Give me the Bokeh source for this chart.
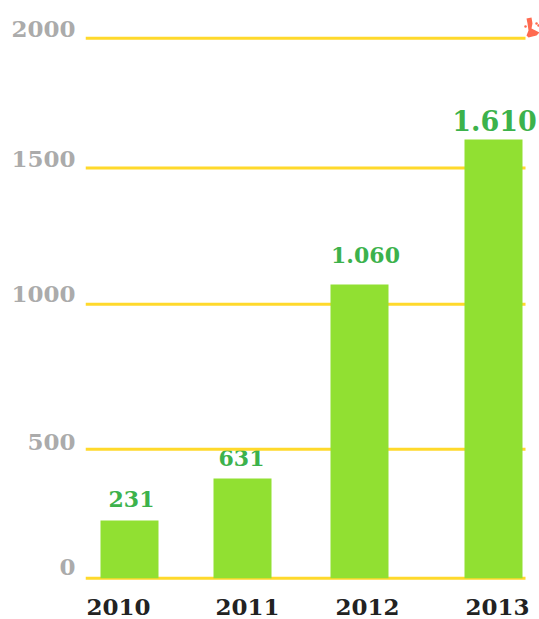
from bokeh.plotting import figure
from bokeh.embed import file_html
from bokeh.resources import INLINE
from bokeh.models import Range1d, FixedTicker, ColumnDataSource
from bokeh.core.properties import value

years = ["2010", "2011", "2012", "2013"]
bar_heights = [214, 369, 1088, 1625]
value_labels = ["231", "631", "1.060", "1.610"]
grid_levels = [0, 478, 1015, 1519, 2000]
y_tick_labels = ["0", "500", "1000", "1500", "2000"]

# layout of this hand-drawn infographic
UNITS_PER_PX = 2000 / 540
FRAME_L, FRAME_R, FRAME_T, FRAME_B, ZERO = 85, 539, 4, 590, 577.7
def y_at(px):
    return (ZERO - px) * UNITS_PER_PX

bar_x = [129, 242, 359, 493]
bar_w = 58
year_x = [118, 247, 367, 497]
label_x = [131, 241, 365, 494]
label_y = [498, 457, 254, 120]
label_size = ["22px", "22px", "22px", "27px"]
y_label_px = [566, 441, 293, 158, 28]

FONT = "DejaVu Serif"
p = figure(width=539, height=619, output_backend="svg", toolbar_location=None,
           x_range=Range1d(FRAME_L, FRAME_R),
           y_range=Range1d(y_at(FRAME_B), y_at(FRAME_T)),
           min_border_left=FRAME_L, min_border_right=0,
           min_border_top=FRAME_T, min_border_bottom=619 - FRAME_B,
           outline_line_color=None, background_fill_color="white",
           border_fill_color="white")
p.grid.visible = False

p.yaxis.ticker = FixedTicker(ticks=[y_at(v) for v in y_label_px])
p.yaxis.major_label_overrides = {y_at(v): t for v, t in zip(y_label_px, y_tick_labels)}
p.yaxis.axis_line_color = None
p.yaxis.major_tick_line_color = None
p.yaxis.minor_tick_line_color = None
p.yaxis.major_tick_out = 0
p.yaxis.major_label_standoff = 10
p.yaxis.major_label_text_font = FONT
p.yaxis.major_label_text_font_style = "bold"
p.yaxis.major_label_text_font_size = "23px"
p.yaxis.major_label_text_color = "#ababab"

p.xaxis.ticker = FixedTicker(ticks=year_x)
p.xaxis.major_label_overrides = dict(zip(year_x, years))
p.xaxis.axis_line_color = None
p.xaxis.major_tick_line_color = None
p.xaxis.minor_tick_line_color = None
p.xaxis.major_tick_out = 0
p.xaxis.major_label_standoff = 8
p.xaxis.major_label_text_font = FONT
p.xaxis.major_label_text_font_style = "bold"
p.xaxis.major_label_text_font_size = "23px"
p.xaxis.major_label_text_color = "#222222"

src = ColumnDataSource(dict(x=label_x, y=[y_at(v) for v in label_y],
                            t=value_labels, s=label_size))
p.text(x="x", y="y", text="t", source=src, text_font=value(FONT),
       text_font_style="bold", text_font_size="s", text_color="#3CB24C",
       text_align="center", text_baseline="middle")

grid_x0 = [85] * len(grid_levels)
grid_x1 = [525] * len(grid_levels)
p.segment(grid_x0, grid_levels, grid_x1, grid_levels, line_color="#FFD92B", line_width=3)

p.vbar(x=bar_x, top=bar_heights, bottom=0, width=bar_w,
       fill_color="#91E032", line_color=None)

# small red splash at the top right
p.patch([526, 531, 532, 531, 535, 539, 536, 528, 526, 528, 527],
        [y_at(v) for v in [18, 17, 23, 28, 30, 32, 35, 37, 35, 30, 23]],
        fill_color="#FF6A50", line_color=None)
p.scatter([525, 536, 538], [y_at(v) for v in [26, 23, 25]], size=2.5,
          fill_color="#FF6A50", line_color=None)

open("out.html", "w").write(file_html(p, INLINE))
